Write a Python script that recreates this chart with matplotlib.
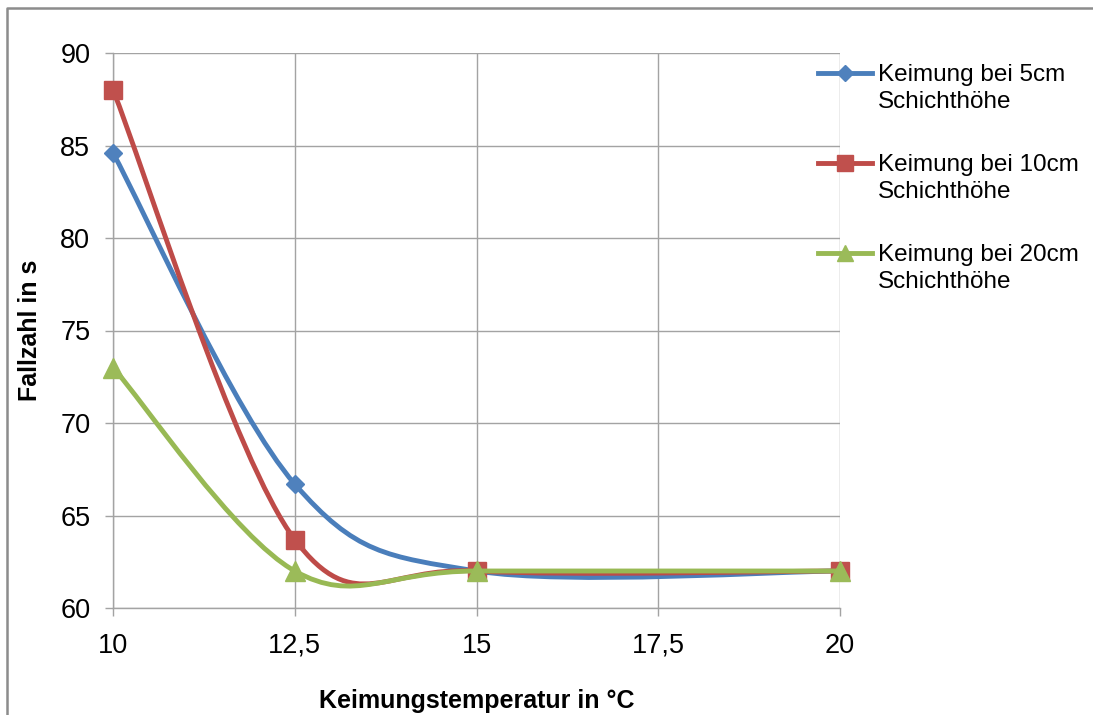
import matplotlib.pyplot as plt
import numpy as np
from matplotlib.path import Path
from matplotlib.patches import PathPatch
from matplotlib.lines import Line2D

plt.rcParams['font.family'] = ['Liberation Sans', 'DejaVu Sans']

# Keimungstemperatur (°C) und Fallzahlen (s)
temperatur = [10, 12.5, 15, 20]
fallzahl_5cm = [84.6, 66.7, 62.0, 62.0]
fallzahl_10cm = [88.0, 63.7, 62.0, 62.0]
fallzahl_20cm = [73.0, 62.0, 62.0, 62.0]

serien = [
    ("Keimung bei 5cm\nSchichthöhe", fallzahl_5cm, "#4A7EBB", "#4F81BD", "D", 9.5),
    ("Keimung bei 10cm\nSchichthöhe", fallzahl_10cm, "#BE4B48", "#C0504D", "s", 13.5),
    ("Keimung bei 20cm\nSchichthöhe", fallzahl_20cm, "#98B954", "#9BBB59", "^", 14),
]

xticks = [10, 12.5, 15, 17.5, 20]
xtick_labels = ["10", "12,5", "15", "17,5", "20"]
yticks = [60, 65, 70, 75, 80, 85, 90]

W, H = 1093, 715
grau = "#A3A3A3"


def glatte_kurve(xs, ys):
    # Bezier-Glaettung wie in Tabellenkalkulationen (Catmull-Rom, Spannung 1/6)
    p = np.column_stack([xs, ys]).astype(float)
    n = len(p)
    verts = [p[0]]
    codes = [Path.MOVETO]
    for i in range(n - 1):
        p0 = p[max(i - 1, 0)]
        p1 = p[i]
        p2 = p[i + 1]
        p3 = p[min(i + 2, n - 1)]
        c1 = p1 + (p2 - p0) / 6
        c2 = p2 - (p3 - p1) / 6
        verts += [c1, c2, p2]
        codes += [Path.CURVE4] * 3
    return Path(verts, codes)


fig = plt.figure(figsize=(W / 100, H / 100), dpi=100)
ax = fig.add_axes([113 / W, 1 - 608 / H, (840 - 113) / W, (608 - 53) / H])

for label, werte, linie, fuell, marker, ms in serien:
    ax.add_patch(PathPatch(glatte_kurve(temperatur, werte), fill=False,
                           edgecolor=linie, lw=3.5, capstyle="round",
                           joinstyle="round", zorder=3, clip_on=False))
    ax.plot(temperatur, werte, linestyle="none", marker=marker, ms=ms,
            color=fuell, markeredgecolor=fuell, zorder=3, clip_on=False)

ax.set_xlim(10, 20)
ax.set_ylim(60, 90)
ax.set_xticks(xticks)
ax.set_xticklabels(xtick_labels)
ax.set_yticks(yticks)
ax.grid(True, color=grau, lw=1.0)
ax.set_axisbelow(True)
for s in ["top", "right"]:
    ax.spines[s].set_visible(False)
for s in ["left", "bottom"]:
    ax.spines[s].set_color(grau)
    ax.spines[s].set_linewidth(1.0)
ax.tick_params(axis="both", direction="out", length=5.8, width=1.0,
               color=grau, labelsize=19.5, pad=10.5)
ax.tick_params(axis="x", pad=12)

ax.set_xlabel("Keimungstemperatur in °C", fontsize=18, fontweight="bold")
ax.xaxis.set_label_coords(0.5, -0.146)
ax.set_ylabel("Fallzahl in s", fontsize=18, fontweight="bold")
ax.yaxis.set_label_coords(-0.098, 0.5)

# Legende rechts neben dem Diagramm
for k, (label, werte, linie, fuell, marker, ms) in enumerate(serien):
    y = 73 + 90 * k
    fig.add_artist(Line2D([818 / W, 845 / W, 872 / W], [1 - y / H] * 3,
                          color=linie, lw=3.5, marker=marker, ms=ms * 0.85,
                          markerfacecolor=fuell, markeredgecolor=fuell,
                          markevery=[1]))
    zeile1, zeile2 = label.split("\n")
    fig.text(878 / W, 1 - (y + 8.5) / H, zeile1, fontsize=17.5, va="baseline")
    fig.text(878 / W, 1 - (y + 34.5) / H, zeile2, fontsize=17.5, va="baseline")

# Rahmen um das Diagramm
fig.add_artist(Line2D([7 / W, 7 / W, 1.0], [0.0, 1 - 8 / H, 1 - 8 / H],
                      color="#8C8C8C", lw=1.8))

fig.savefig("out.png", dpi=100)
